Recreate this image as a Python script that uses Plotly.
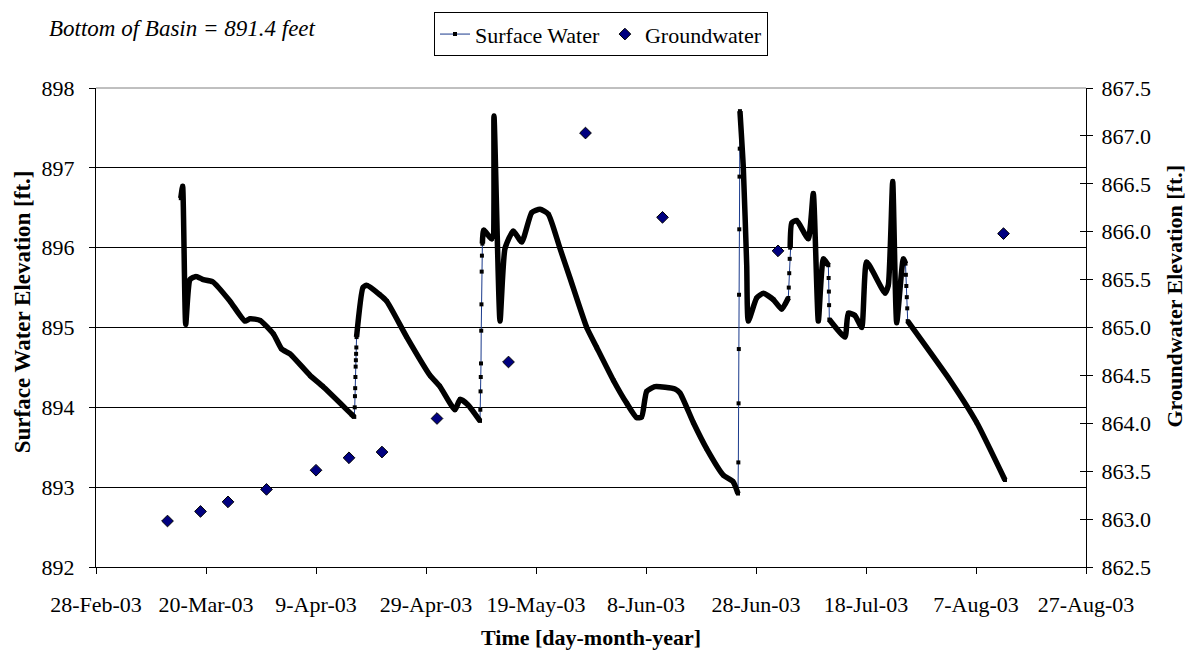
import pandas as pd
import plotly.graph_objects as go

# Continuous surface-water record (slowly varying stretches)
level_time = [
    "2003-03-15 10:00", "2003-03-15 18:00", "2003-03-16 07:30", "2003-03-17 02:00",
    "2003-03-18 04:30", "2003-03-19 12:00", "2003-03-21 06:30", "2003-03-24 08:40",
    "2003-03-27 02:00", "2003-03-28 00:00", "2003-03-29 19:40", "2003-04-01 06:00",
    "2003-04-02 18:00", "2003-04-04 06:30", "2003-04-07 22:00", "2003-04-10 06:30",
    "2003-04-15 12:00", "2003-04-15 23:00",
    "2003-04-16 09:00", "2003-04-17 13:00", "2003-04-18 05:00", "2003-04-20 15:00",
    "2003-04-21 20:30", "2003-04-25 12:00", "2003-04-29 17:30", "2003-05-01 13:00",
    "2003-05-04 06:30", "2003-05-05 04:30", "2003-05-06 15:30", "2003-05-08 19:40",
    "2003-05-09 06:00", "2003-05-09 12:00", "2003-05-10 23:00", "2003-05-11 08:40",
    "2003-05-12 11:00", "2003-05-13 08:40", "2003-05-14 21:00", "2003-05-16 09:40",
    "2003-05-18 05:20", "2003-05-19 17:30", "2003-05-21 05:50", "2003-05-23 08:40",
    "2003-05-25 04:20", "2003-05-28 05:20", "2003-05-30 01:00", "2003-06-02 01:20",
    "2003-06-04 12:00", "2003-06-06 07:30", "2003-06-07 05:00", "2003-06-08 03:00",
    "2003-06-09 15:30", "2003-06-13 06:30", "2003-06-14 04:20", "2003-06-16 14:30",
    "2003-06-19 01:00", "2003-06-22 01:20", "2003-06-23 19:40", "2003-06-24 17:30",
    "2003-06-25 02:00", "2003-06-25 16:30", "2003-06-26 07:30", "2003-06-26 14:30",
    "2003-06-28 03:00", "2003-06-29 08:00", "2003-07-01 03:40", "2003-07-02 16:00",
    "2003-07-03 21:00",
    "2003-07-04 05:00", "2003-07-04 12:00", "2003-07-05 09:40", "2003-07-07 12:00",
    "2003-07-08 10:00", "2003-07-09 08:00", "2003-07-10 06:00", "2003-07-11 03:40",
    "2003-07-11 08:00", "2003-07-14 04:20", "2003-07-14 18:40", "2003-07-16 00:00",
    "2003-07-17 05:20", "2003-07-18 03:00", "2003-07-21 11:00", "2003-07-22 01:20",
    "2003-07-22 20:30", "2003-07-23 14:00", "2003-07-24 18:40", "2003-07-25 04:20",
    "2003-07-25 14:00", "2003-08-02 06:30", "2003-08-07 03:00", "2003-08-12 06:30",
]
level_ft = [
    896.62, 896.77, 895.04, 895.60,
    895.64, 895.60, 895.57, 895.33,
    895.08, 895.11, 895.09, 894.92,
    894.73, 894.67, 894.40, 894.26,
    893.91, 893.88,
    894.88, 895.50, 895.53, 895.41,
    895.33, 894.88, 894.40, 894.26,
    893.97, 894.10, 894.03, 893.83,
    896.05, 896.22, 896.11, 897.65,
    895.08, 895.99, 896.21, 896.07,
    896.44, 896.48, 896.42, 895.99,
    895.62, 895.00, 894.75, 894.34,
    894.05, 893.87, 893.88, 894.20,
    894.26, 894.23, 894.18, 893.81,
    893.48, 893.15, 893.07, 892.92,
    897.71, 897.01, 895.78, 895.08,
    895.37, 895.43, 895.35, 895.23,
    895.37,
    896.00, 896.31, 896.34, 896.11,
    896.68, 895.08, 895.86, 895.78,
    895.10, 894.88, 895.18, 895.15,
    895.00, 895.82, 895.43, 895.53,
    896.83, 895.06, 895.86, 895.80,
    895.08, 894.34, 893.81, 893.09,
]

# Readings taken during rapid rises and drops of the pool
rapid_time = [
    "2003-04-16 01:00", "2003-04-16 02:00", "2003-04-16 03:00", "2003-04-16 04:00",
    "2003-04-16 05:00", "2003-04-16 06:00", "2003-04-16 07:00", "2003-04-16 08:00",
    "2003-05-08 21:00", "2003-05-08 22:00", "2003-05-08 23:00", "2003-05-09 00:00",
    "2003-05-09 01:00", "2003-05-09 02:00", "2003-05-09 03:00", "2003-05-09 04:00",
    "2003-06-24 19:00", "2003-06-24 20:00", "2003-06-24 21:00", "2003-06-24 22:00",
    "2003-06-24 23:00", "2003-06-25 00:00", "2003-06-25 01:00",
    "2003-07-03 23:00", "2003-07-04 01:00", "2003-07-04 03:00",
    "2003-07-11 05:00", "2003-07-11 06:00", "2003-07-11 07:00",
    "2003-07-25 06:00", "2003-07-25 08:00", "2003-07-25 10:00", "2003-07-25 12:00",
]
rapid_ft = [
    894.00, 894.14, 894.24, 894.38,
    894.51, 894.59, 894.67, 894.75,
    893.97, 894.20, 894.38, 894.55,
    894.96, 895.29, 895.70, 895.90,
    893.31, 894.05, 894.73, 895.41,
    896.23, 896.89, 897.24,
    895.50, 895.68, 895.86,
    895.62, 895.45, 895.28,
    895.66, 895.52, 895.38, 895.24,
]

# Groundwater well readings
gw_date = [
    "2003-03-13", "2003-03-19", "2003-03-24", "2003-03-31", "2003-04-09",
    "2003-04-15", "2003-04-21", "2003-05-01", "2003-05-14", "2003-05-28",
    "2003-06-11", "2003-07-02", "2003-08-12",
]
gw_ft = [
    862.98, 863.08, 863.18, 863.31, 863.51,
    863.64, 863.70, 864.05, 864.64, 867.03,
    866.15, 865.80, 865.98,
]

FONT = "Liberation Serif, Times New Roman, serif"

lt = list(pd.to_datetime(level_time))
rt = list(pd.to_datetime(rapid_time))

# full record, time ordered
record = sorted(zip(lt + rt, level_ft + rapid_ft))
rec_t = [t for t, _ in record]
rec_v = [v for _, v in record]

# dense marker band: break wherever a rapid change separates two readings
band_t, band_v = [], []
for i, (t, v) in enumerate(zip(lt, level_ft)):
    if i > 0 and any(lt[i - 1] < r < t for r in rt):
        band_t.append(None)
        band_v.append(None)
    band_t.append(t)
    band_v.append(v)

fig = go.Figure()

fig.add_trace(go.Scatter(
    x=rec_t, y=rec_v, name="Surface Water", mode="lines+markers",
    line=dict(color="#1a3a8c", width=1),
    marker=dict(symbol="square", size=4, color="black"),
))
fig.add_trace(go.Scatter(
    x=band_t, y=band_v, mode="lines", showlegend=False, hoverinfo="skip",
    line=dict(color="black", width=5.5, shape="spline", smoothing=0.5),
    connectgaps=False,
))
fig.add_trace(go.Scatter(
    x=gw_date, y=gw_ft, name="Groundwater", mode="markers", yaxis="y2",
    marker=dict(symbol="diamond", size=9, color="#000080",
                line=dict(color="black", width=1)),
))
# carrier for the inner tick marks of the right axis
fig.add_trace(go.Scatter(x=[None], y=[None], yaxis="y3", showlegend=False,
                         hoverinfo="skip"))

tickfont = dict(family=FONT, size=22, color="black")

fig.update_layout(
    width=1189, height=652,
    margin=dict(l=96, r=103, t=80, b=85),
    paper_bgcolor="white", plot_bgcolor="white",
    font=dict(family=FONT, size=22, color="black"),
    xaxis=dict(
        type="date", range=["2003-02-28", "2003-08-27"],
        tick0="2003-02-28", dtick=20 * 86400000, tickformat="%-d-%b-%y",
        ticks="outside", ticklen=6, tickcolor="black",
        showline=True, linecolor="black", linewidth=1,
        showgrid=False, zeroline=False, tickfont=tickfont,
        ticklabelstandoff=12,
    ),
    yaxis=dict(
        range=[892, 898], dtick=1, ticks="outside", ticklen=6, tickcolor="black",
        showline=True, linecolor="black", linewidth=1,
        showgrid=True, gridcolor="black", gridwidth=1, zeroline=False,
        tickfont=tickfont, ticklabelstandoff=10,
    ),
    yaxis2=dict(
        overlaying="y", side="right", range=[862.5, 867.5], dtick=0.5,
        tickformat=".1f", ticks="outside", ticklen=6, tickcolor="black",
        showline=True, linecolor="black", linewidth=1,
        showgrid=False, zeroline=False, tickfont=tickfont,
        ticklabelstandoff=4,
    ),
    yaxis3=dict(
        overlaying="y", side="right", range=[862.5, 867.5], dtick=0.5,
        ticks="inside", ticklen=6, tickcolor="black",
        showticklabels=False, showline=False, showgrid=False, zeroline=False,
    ),
    legend=dict(
        orientation="h", x=(434 - 96) / 990, y=(567 - 3) / 487,
        xanchor="left", yanchor="top",
        bordercolor="black", borderwidth=1, bgcolor="white",
        font=dict(family=FONT, size=22, color="black"),
    ),
    showlegend=True,
)

fig.add_shape(type="line", xref="paper", yref="paper", x0=0, x1=1, y0=1, y1=1,
              line=dict(color="#808080", width=1))

fig.add_annotation(
    text="<i>Bottom of Basin = 891.4 feet</i>", xref="paper", yref="paper",
    x=(47 - 96) / 990, y=(567 - 19) / 487, xanchor="left", yanchor="middle",
    showarrow=False, font=dict(family=FONT, size=23, color="black"),
)
fig.add_annotation(
    text="<b>Time [day-month-year]</b>", xref="paper", yref="paper",
    x=0.5, y=(567 - 639) / 487, xanchor="center", yanchor="middle",
    showarrow=False, font=dict(family=FONT, size=22, color="black"),
)
fig.add_annotation(
    text="<b>Surface Water Elevation [ft.]</b>", xref="paper", yref="paper",
    x=(22 - 96) / 990, y=(567 - 308) / 487, xanchor="center", yanchor="middle",
    textangle=-90, showarrow=False,
    font=dict(family=FONT, size=23, color="black"),
)
fig.add_annotation(
    text="<b>Groundwater Elevation [ft.]</b>", xref="paper", yref="paper",
    x=(1175 - 96) / 990, y=(567 - 292) / 487, xanchor="center", yanchor="middle",
    textangle=-90, showarrow=False,
    font=dict(family=FONT, size=22, color="black"),
)

fig.write_html("out.html")
